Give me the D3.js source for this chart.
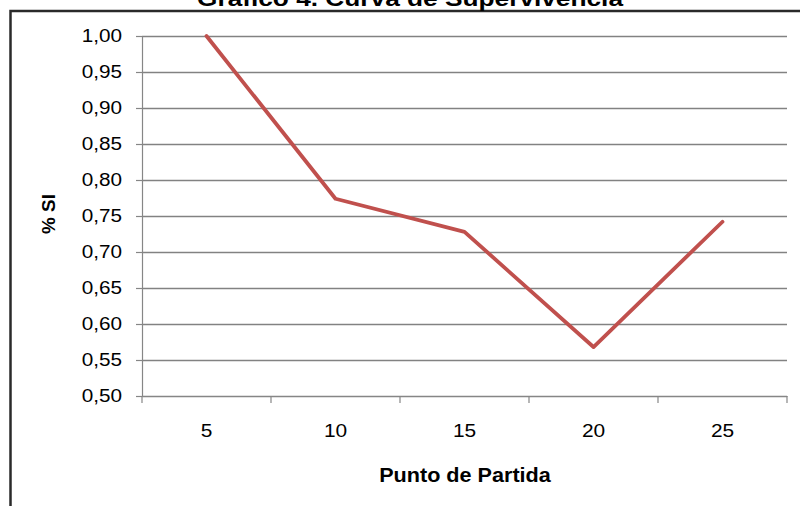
<!DOCTYPE html>
<html>
<head>
<meta charset="utf-8">
<script src="https://cdn.jsdelivr.net/npm/d3@7"></script>
<style>
  html, body { margin: 0; padding: 0; background: #fff; }
  svg { display: block; font-family: "Liberation Sans", Arial, sans-serif; }
</style>
</head>
<body>
<svg id="chart" width="800" height="506"></svg>
<script>
// Survival curve by starting point
const startPoints = [5, 10, 15, 20, 25];
const survival = [1.00, 0.774, 0.728, 0.568, 0.742];
const yTicks = [0.50, 0.55, 0.60, 0.65, 0.70, 0.75, 0.80, 0.85, 0.90, 0.95, 1.00];
const titleText = "Gráfico 4. Curva de Supervivencia";
const xTitle = "Punto de Partida";
const yTitle = "% SI";

const svg = d3.select("#chart");
const W = 800, H = 506;
const plot = { left: 142, right: 787, top: 36, bottom: 396 };

const x = d3.scaleBand().domain(startPoints).range([plot.left, plot.right]).padding(0);
const y = d3.scaleLinear().domain([0.5, 1.0]).range([plot.bottom, plot.top]);
const fmt = v => d3.format(".2f")(v).replace(".", ",");

// widen glyphs slightly, like the original rendering
function stretch(sel, k) {
  sel.each(function () {
    const w = this.getComputedTextLength();
    d3.select(this).attr("textLength", w * k).attr("lengthAdjust", "spacingAndGlyphs");
  });
}

svg.append("rect").attr("width", W).attr("height", H).attr("fill", "#fff");

// outer frame (continues past the right and bottom edges)
svg.append("rect")
  .attr("x", 10.5).attr("y", 11)
  .attr("width", W + 20).attr("height", H + 20)
  .attr("fill", "none").attr("stroke", "#2a2a2a").attr("stroke-width", 2.5);

// title, sitting above the frame's top edge
svg.append("text")
  .attr("x", 410).attr("y", 5.5)
  .attr("text-anchor", "middle")
  .attr("font-weight", "bold").attr("font-size", 22)
  .attr("textLength", 426).attr("lengthAdjust", "spacingAndGlyphs")
  .attr("fill", "#000")
  .text(titleText);

// horizontal gridlines
const grid = svg.append("g")
  .attr("transform", `translate(${plot.left},0)`)
  .call(d3.axisRight(y).tickValues(yTicks).tickSize(plot.right - plot.left).tickFormat(""));
grid.select(".domain").remove();
grid.selectAll(".tick line").attr("stroke", "#828282").attr("stroke-width", 1.3);

// y axis
const yAxis = svg.append("g")
  .attr("transform", `translate(${plot.left},0)`)
  .call(d3.axisLeft(y).tickValues(yTicks).tickSize(6).tickSizeOuter(0).tickPadding(14).tickFormat(fmt));
yAxis.select(".domain").attr("stroke", "#868686").attr("stroke-width", 1.2);
yAxis.selectAll(".tick line").attr("stroke", "#868686").attr("stroke-width", 1.2);
yAxis.selectAll("text")
  .attr("font-family", "Liberation Sans, Arial, sans-serif")
  .attr("font-size", 18).attr("fill", "#000");
stretch(yAxis.selectAll("text"), 1.15);

// x axis: ticks at category boundaries
const xAxis = svg.append("g")
  .attr("transform", `translate(0,${plot.bottom})`)
  .call(d3.axisBottom(x).tickSize(0).tickPadding(28));
xAxis.select(".domain").attr("stroke", "#868686").attr("stroke-width", 1.2);
xAxis.selectAll("text")
  .attr("font-family", "Liberation Sans, Arial, sans-serif")
  .attr("font-size", 19).attr("fill", "#000");
stretch(xAxis.selectAll("text"), 1.1);
const bounds = startPoints.map(d => x(d)).concat([x(startPoints[startPoints.length - 1]) + x.bandwidth()]);
xAxis.selectAll(".bound").data(bounds).join("line")
  .attr("class", "bound")
  .attr("x1", d => d).attr("x2", d => d)
  .attr("y1", 0).attr("y2", 7)
  .attr("stroke", "#868686").attr("stroke-width", 1.2);

// axis titles
const xt = svg.append("text")
  .attr("x", 465).attr("y", 481.5)
  .attr("text-anchor", "middle")
  .attr("font-weight", "bold").attr("font-size", 20)
  .attr("fill", "#000")
  .text(xTitle);
stretch(xt, 1.08);

const yt = svg.append("text")
  .attr("transform", "translate(55,214) rotate(-90)")
  .attr("text-anchor", "middle")
  .attr("font-weight", "bold").attr("font-size", 18)
  .attr("fill", "#000")
  .text(yTitle);
stretch(yt, 1.05);

// survival line
const line = d3.line()
  .x((d, i) => x(startPoints[i]) + x.bandwidth() / 2)
  .y(d => y(d));
svg.append("path")
  .datum(survival)
  .attr("d", line)
  .attr("fill", "none")
  .attr("stroke", "#C0504D")
  .attr("stroke-width", 3.8)
  .attr("stroke-linejoin", "round")
  .attr("stroke-linecap", "round");
</script>
</body>
</html>
